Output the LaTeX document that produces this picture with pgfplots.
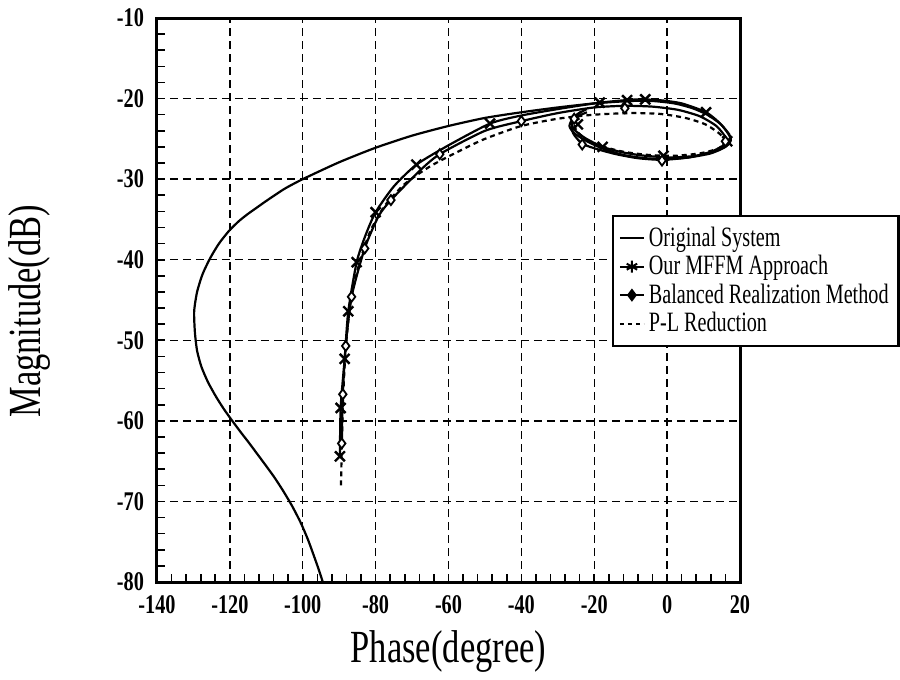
\documentclass[border=0pt]{standalone}
\usepackage{fontspec}
\setmainfont{Liberation Serif}
\newfontfamily\narrowfont[FakeStretch=0.75]{Liberation Serif}
\newfontfamily\legfont[FakeStretch=0.72]{Liberation Serif}
\usepackage{pgfplots}
\usepackage{pgfplotstable}
\pgfplotsset{compat=1.18}

% Nichols-plane responses: phase (deg) vs magnitude (dB)
\pgfplotstableread{
x y
-94.5 -80.0
-95.5 -78.6
-96.9 -76.8
-98.6 -74.7
-100.6 -72.6
-103.0 -70.5
-105.5 -68.6
-107.8 -67.0
-110.2 -65.5
-112.5 -64.1
-114.8 -62.7
-117.2 -61.3
-119.5 -59.9
-121.7 -58.5
-123.8 -57.0
-126.0 -55.2
-127.8 -53.3
-129.0 -51.3
-129.6 -49.0
-129.8 -46.4
-129.0 -44.0
-127.5 -41.8
-125.4 -39.8
-123.0 -38.0
-120.2 -36.4
-117.5 -35.2
-115.0 -34.3
-112.5 -33.5
-110.0 -32.7
-105.0 -31.2
-100.0 -30.0
-90.0 -27.9
-80.0 -26.1
-70.0 -24.6
-60.0 -23.4
-50.0 -22.4
-40.0 -21.7
-30.0 -21.1
-20.0 -20.6
-10.0 -20.3
-4.0 -20.3
2.0 -20.6
7.0 -21.2
11.0 -22.0
14.5 -23.1
17.0 -24.4
17.5 -25.2
16.0 -26.0
12.0 -26.8
6.0 -27.3
0.0 -27.5
-6.0 -27.4
-12.0 -27.0
-17.7 -26.2
-22.0 -25.3
-25.5 -24.3
-26.8 -23.4
-25.8 -22.4
-23.5 -21.6
}\original

\pgfplotstableread{
x y
-89.8 -64.6
-89.6 -58.4
-88.5 -52.3
-87.5 -46.4
-85.2 -40.3
-82.8 -37.0
-80.0 -34.1
-75.0 -30.9
-68.8 -28.2
-60.0 -25.8
-48.6 -23.1
-40.0 -22.1
-30.0 -21.3
-20.0 -20.6
-14.0 -20.3
-8.0 -20.1
-2.0 -20.2
4.0 -20.6
10.7 -21.7
14.8 -23.2
17.2 -24.7
17.0 -25.6
14.0 -26.4
8.0 -27.1
1.0 -27.3
-6.0 -27.1
-12.0 -26.7
-17.7 -26.0
-22.5 -24.9
-25.6 -23.8
-26.2 -22.8
-24.5 -21.9
-22.0 -21.3
}\mffm

\pgfplotstableread{
x y
-89.8 -64.4
-89.6 -58.4
-88.5 -52.3
-87.5 -46.4
-85.2 -40.3
-80.0 -34.1
-68.8 -28.2
-48.6 -23.1
-18.5 -20.5
-11.0 -20.2
-6.0 -20.1
10.7 -21.7
16.5 -25.3
-1.0 -27.1
-17.7 -26.0
-24.5 -23.2
}\mffmmarks

\pgfplotstableread{
x y
-89.3 -63.0
-89.0 -56.7
-88.2 -50.7
-86.6 -44.6
-83.0 -38.6
-79.2 -34.6
-75.8 -32.6
-68.0 -29.0
-62.4 -26.9
-50.0 -24.0
-40.0 -22.8
-30.0 -21.8
-20.0 -21.1
-11.6 -20.9
-4.0 -21.0
3.0 -21.4
9.0 -22.2
13.5 -23.4
16.0 -24.8
15.5 -25.8
12.0 -26.6
6.0 -27.3
-1.4 -27.6
-8.0 -27.4
-14.0 -26.9
-19.0 -26.3
-23.3 -25.6
-25.8 -24.3
-26.0 -23.0
-24.5 -22.2
-22.0 -21.7
}\balanced

\pgfplotstableread{
x y
-89.3 -62.8
-89.0 -56.7
-88.2 -50.7
-86.6 -44.6
-83.0 -38.6
-75.8 -32.6
-62.4 -26.9
-40.0 -22.8
-11.6 -21.2
16.0 -25.3
-1.4 -27.7
-23.3 -25.7
-25.5 -22.5
}\balancedmarks

\pgfplotstableread{
x y
-89.5 -68.0
-89.3 -63.5
-88.9 -57.0
-88.2 -51.0
-86.8 -45.0
-84.5 -40.5
-81.5 -36.5
-77.5 -33.3
-72.0 -30.6
-65.0 -28.4
-57.0 -26.5
-50.0 -25.0
-40.0 -23.4
-30.0 -22.5
-20.0 -22.0
-10.0 -21.8
-2.0 -21.9
5.0 -22.4
10.5 -23.2
14.5 -24.4
15.8 -25.4
14.0 -26.2
9.0 -26.8
2.0 -27.1
-5.0 -27.0
-12.0 -26.6
-18.0 -25.9
-22.5 -25.0
-25.0 -23.9
-25.3 -22.9
-23.5 -22.3
}\plred

\begin{document}
\begin{tikzpicture}
\begin{axis}[
  name=ax,
  scale only axis,
  width=291.5pt, height=282pt,
  xmin=-140, xmax=20, ymin=-80, ymax=-10,
  xtick={-140,-120,...,20},
  ytick={-80,-70,...,-10},
  minor x tick num=4, minor y tick num=4,
  tick pos=left, tick align=inside,
  major tick length=4pt, minor tick length=4pt,
  every tick/.style={black, line width=0.8pt},
  grid=major,
  major grid style={black, line width=0.7pt, dash pattern=on 4pt off 2.5pt},
  axis line style={line width=1.5pt},
  /pgf/number format/assume math mode=true,
  ticklabel style={font=\narrowfont\fontsize{13.5}{15}\selectfont\bfseries},
  yticklabel style={xshift=-3pt},
  xticklabel style={yshift=-3pt},
  xlabel={Phase(degree)},
  ylabel={Magnitude(dB)},
  label style={font=\narrowfont\fontsize{23}{26}\selectfont},
  xlabel style={at={(axis description cs:0.5,-0.124)}, anchor=center},
  ylabel style={at={(axis description cs:-0.218,0.48)}, anchor=center},
  legend image code/.code={%
    \draw[mark repeat=2, mark phase=2, #1]
      plot coordinates {(0pt,0pt) (6pt,0pt) (12pt,0pt)};},
  legend style={
    at={(axis description cs:0.780,0.651)}, anchor=north west,
    draw=black, line width=1.2pt, fill=white,
    font=\legfont\fontsize{14}{16}\selectfont,
    inner xsep=3pt, inner ysep=3.5pt, row sep=-1pt,
    cells={anchor=west}},
]
% legend samples
\addlegendimage{black, line width=1pt}
\addlegendentry{Original System}
\addlegendimage{black, line width=1pt, mark=asterisk, mark size=3pt}
\addlegendentry{Our MFFM Approach}
\addlegendimage{black, line width=1pt, mark=diamond*, mark size=2.5pt}
\addlegendentry{Balanced Realization Method}
\addlegendimage{black, line width=1pt, dash pattern=on 2pt off 2pt}
\addlegendentry{P-L Reduction}

% curves
\addplot[forget plot, black, line width=1.1pt, smooth, tension=0.4] table {\original};
\addplot[forget plot, black, line width=1.1pt, dash pattern=on 2.5pt off 2pt, smooth, tension=0.4] table {\plred};
\addplot[forget plot, black, line width=1.1pt, smooth, tension=0.4] table {\balanced};
\addplot[forget plot, black, line width=1.1pt, smooth, tension=0.4] table {\mffm};
\addplot[forget plot, only marks, mark=x, mark size=3.5pt, mark options={black, line width=1.2pt}] table {\mffmmarks};
\addplot[forget plot, only marks, mark=diamond*, mark size=2.5pt, mark options={black, fill=white, line width=0.9pt}] table {\balancedmarks};
\end{axis}
\pgfresetboundingbox
\path ([shift={(-78.5pt,-49pt)}]ax.south west) rectangle ([shift={(371.5pt,291pt)}]ax.south west);
\end{tikzpicture}
\end{document}
